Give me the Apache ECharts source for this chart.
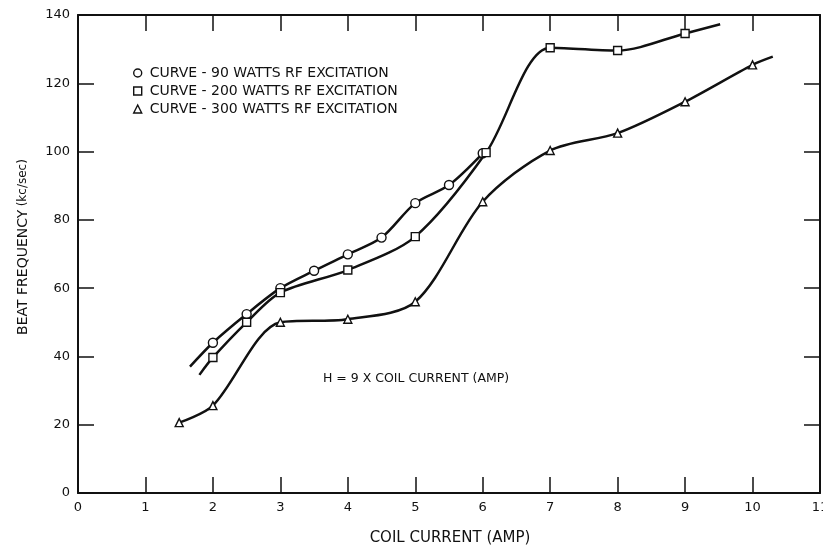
<!DOCTYPE html>
<html><head><meta charset="utf-8">
<script src="https://cdn.jsdelivr.net/npm/echarts@6/dist/echarts.min.js"></script>
<style>html,body{margin:0;padding:0;background:#fff}#c{width:823px;height:546px}</style>
</head><body><div id="c"></div>
<script>
const xTickLabels = ['0','1','2','3','4','5','6','7','8','9','10','11'];
const yTickLabels = ['0','20','40','60','80','100','120','140'];
const seriesNames = ['CURVE - 90 WATTS RF EXCITATION','CURVE - 200 WATTS RF EXCITATION','CURVE - 300 WATTS RF EXCITATION'];
const xAxisTitle = 'COIL CURRENT (AMP)';
const yAxisTitleMain = 'BEAT FREQUENCY';
const yAxisTitleUnit = '(kc/sec)';
const noteText = 'H = 9 X COIL CURRENT (AMP)';

// 90 W curve (circles); first point is the unmarked start of the drawn line
const curve90X = [1.66, 2, 2.5, 3, 3.5, 4, 4.5, 5, 5.5, 6];
const curve90Y = [37.0, 44.0, 52.4, 60.0, 65.1, 69.9, 74.8, 84.9, 90.2, 99.5];
const curve90Marked = [false, true, true, true, true, true, true, true, true, true];

// 200 W curve (squares); first and last points are unmarked line ends
const curve200X = [1.8, 2, 2.5, 3, 4, 5, 6.05, 7, 8, 9, 9.52];
const curve200Y = [34.6, 39.7, 50.0, 58.7, 65.3, 75.1, 99.7, 130.4, 129.6, 134.6, 137.3];
const curve200Marked = [false, true, true, true, true, true, true, true, true, true, false];

// 300 W curve (triangles); last point is the unmarked line end
const curve300X = [1.5, 2, 3, 4, 5, 6, 7, 8, 9, 10, 10.3];
const curve300Y = [20.6, 25.6, 50.0, 50.9, 56.0, 85.3, 100.3, 105.4, 114.6, 125.4, 127.8];
const curve300Marked = [true, true, true, true, true, true, true, true, true, true, false];

function build(xs, ys, marked) {
  return xs.map((x, i) => marked[i] ? [x, ys[i]] : { value: [x, ys[i]], symbol: 'none' });
}

const FONT = 'DejaVu Sans';
const INK = '#111';

const chart = echarts.init(document.getElementById('c'), null, { renderer: 'canvas' });

function lineSeries(name, data, symbol, size) {
  return {
    name: name, type: 'line', data: data,
    smooth: 0.3,
    symbol: symbol, symbolSize: size,
    showSymbol: true,
    lineStyle: { color: INK, width: 2.5 },
    itemStyle: { color: '#fff', borderColor: INK, borderWidth: 1.4 },
    emphasis: { disabled: true },
    z: 3
  };
}

const tickStyle = { show: true, inside: true, length: 16, lineStyle: { color: INK, width: 1.5 } };
const lineStyleAx = { show: true, onZero: false, lineStyle: { color: INK, width: 2 } };

chart.setOption({
  animation: false,
  backgroundColor: '#fff',
  grid: { left: 78, right: 3, top: 15, bottom: 53, containLabel: false, outerBoundsMode: 'none' },
  legend: {
    orient: 'vertical', left: 128, top: 61, itemGap: 4,
    itemWidth: 8, itemHeight: 8,
    data: [
      { name: seriesNames[0], icon: 'circle' },
      { name: seriesNames[1], icon: 'rect' },
      { name: seriesNames[2], icon: 'triangle' }
    ],
    itemStyle: { color: '#fff', borderColor: INK, borderWidth: 1.4 },
    textStyle: { fontFamily: FONT, fontSize: 14, color: INK, padding: [0, 0, 0, 3] },
    selectedMode: false
  },
  xAxis: [
    {
      type: 'value', min: 0, max: 11, interval: 1, position: 'bottom',
      axisLine: lineStyleAx, axisTick: tickStyle, splitLine: { show: false },
      axisLabel: { margin: 8, fontFamily: FONT, fontSize: 13, color: INK,
        formatter: v => xTickLabels[Math.round(v)] }
    },
    {
      type: 'value', min: 0, max: 11, interval: 1, position: 'top',
      axisLine: lineStyleAx, axisTick: tickStyle, splitLine: { show: false },
      axisLabel: { show: false }
    }
  ],
  yAxis: [
    {
      type: 'value', min: 0, max: 140, interval: 20, position: 'left',
      axisLine: lineStyleAx, axisTick: tickStyle, splitLine: { show: false },
      axisLabel: { margin: 8, fontFamily: FONT, fontSize: 13, color: INK,
        formatter: v => yTickLabels[Math.round(v / 20)] }
    },
    {
      type: 'value', min: 0, max: 140, interval: 20, position: 'right',
      axisLine: lineStyleAx, axisTick: tickStyle, splitLine: { show: false },
      axisLabel: { show: false }
    }
  ],
  graphic: [
    {
      type: 'text', x: 450, y: 538,
      style: { text: xAxisTitle, fontFamily: FONT, fontSize: 15, fill: INK,
        align: 'center', verticalAlign: 'middle' }
    },
    {
      type: 'text', x: 23, y: 247, rotation: Math.PI / 2,
      style: {
        text: '{a|' + yAxisTitleMain + '} {b|' + yAxisTitleUnit + '}',
        rich: {
          a: { fontFamily: FONT, fontSize: 14, fill: INK },
          b: { fontFamily: FONT, fontSize: 12, fill: INK }
        },
        align: 'center', verticalAlign: 'middle'
      }
    },
    {
      type: 'text', x: 323, y: 379,
      style: { text: noteText, fontFamily: FONT, fontSize: 12.5, fill: INK, verticalAlign: 'middle' }
    }
  ],
  series: [
    lineSeries(seriesNames[0], build(curve90X, curve90Y, curve90Marked), 'circle', 9),
    lineSeries(seriesNames[1], build(curve200X, curve200Y, curve200Marked), 'rect', 8),
    lineSeries(seriesNames[2], build(curve300X, curve300Y, curve300Marked), 'triangle', 8)
  ]
});
</script>
</body></html>
